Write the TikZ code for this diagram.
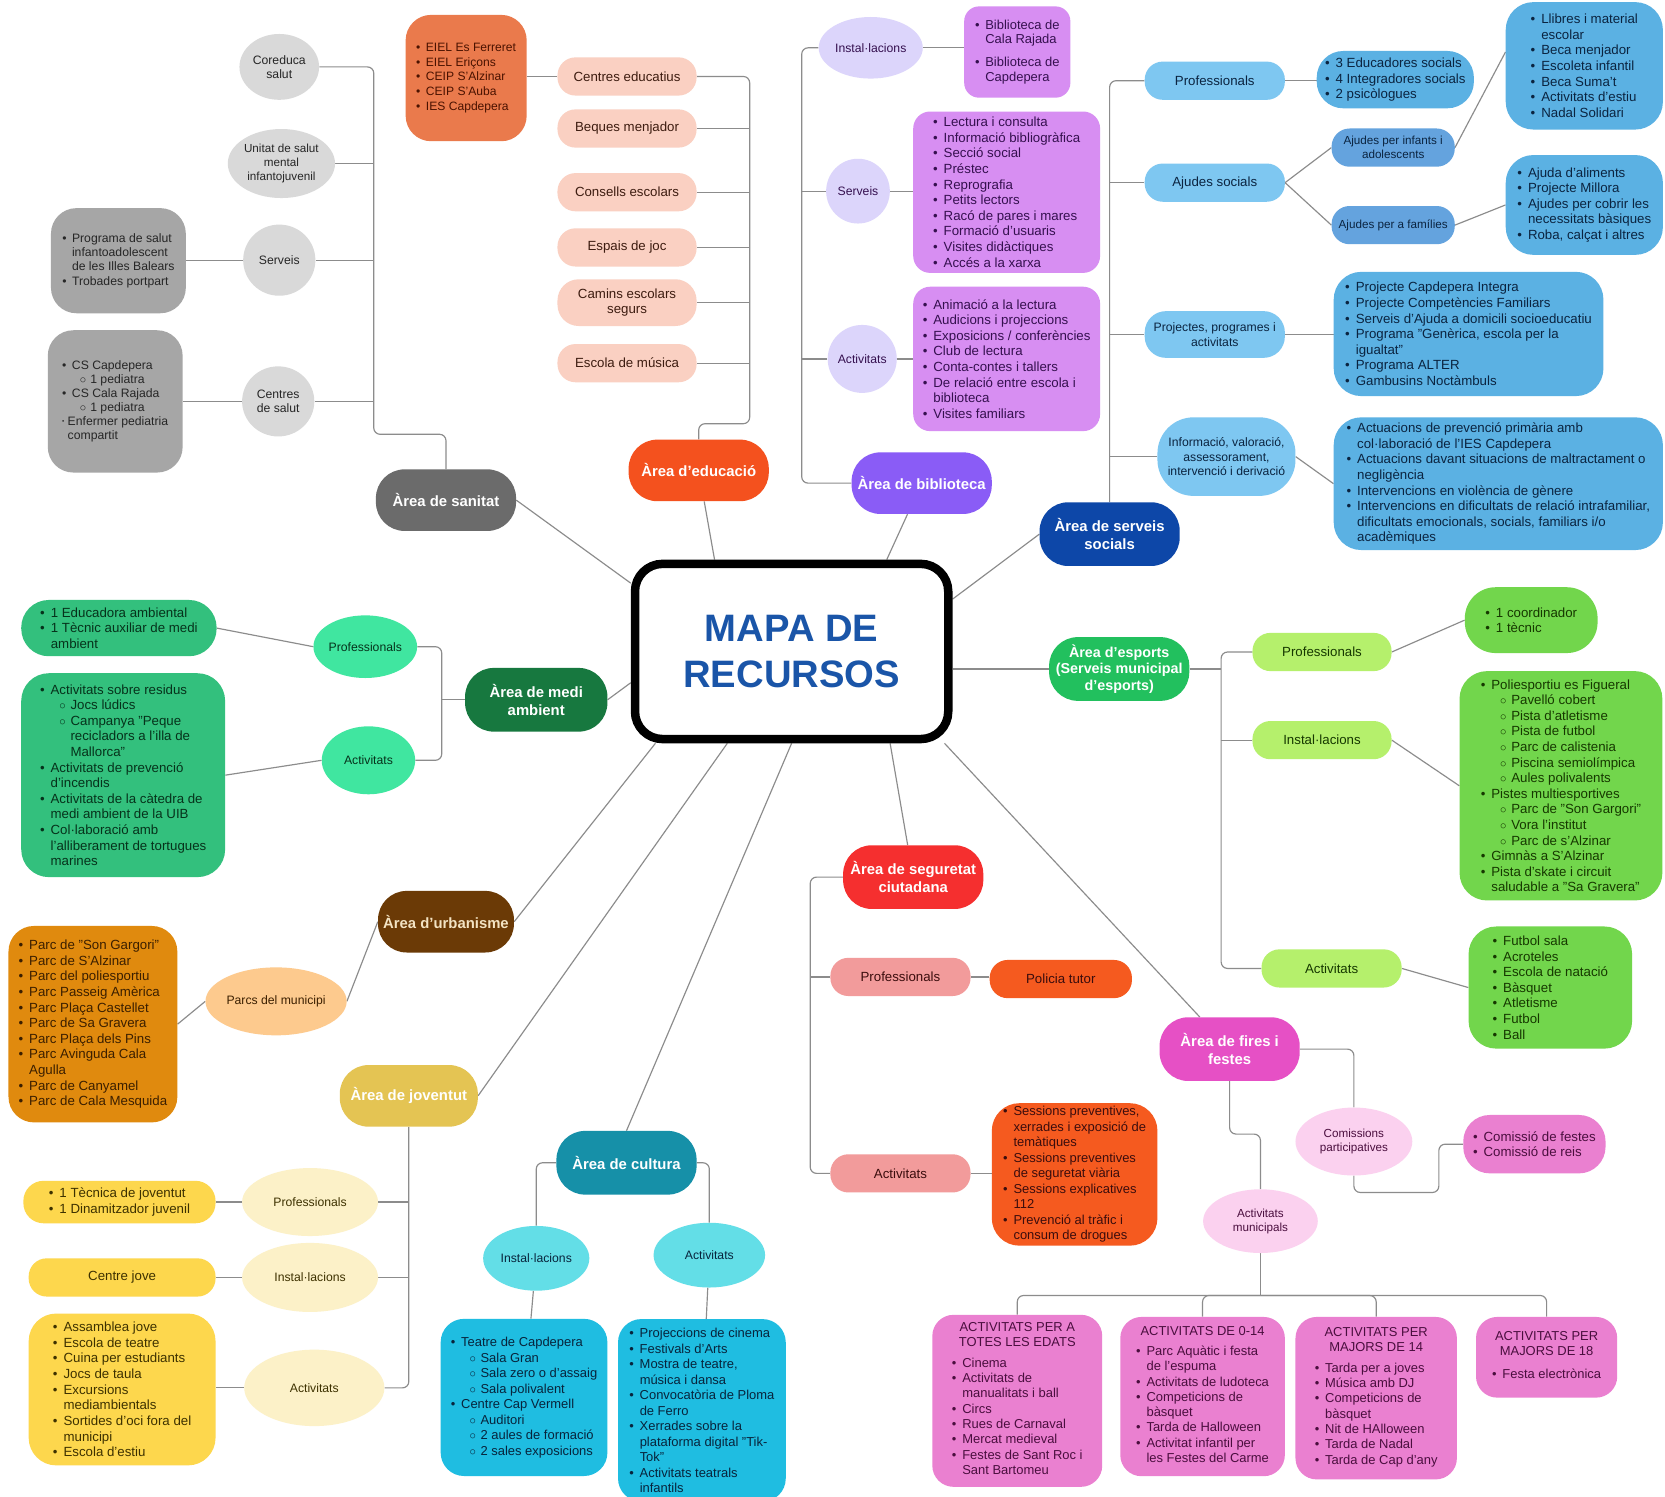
\documentclass[tikz,border=0pt]{standalone}
\usepackage{fontspec}
\setmainfont{Liberation Sans}
\usetikzlibrary{shapes.geometric}
\pgfdeclarelayer{bg}
\pgfsetlayers{bg,main}
\definecolor{lineg}{HTML}{8C8C8C}
\definecolor{titleblue}{HTML}{1A55A8}
\definecolor{cSan}{HTML}{6B6B6B}\definecolor{cSanL}{HTML}{D9D9D9}\definecolor{cSanB}{HTML}{A6A6A6}\definecolor{tSan}{HTML}{262626}
\definecolor{cEdu}{HTML}{F4511E}\definecolor{cEduL}{HTML}{FAD0C2}\definecolor{cEduB}{HTML}{EA7A4C}\definecolor{tEdu}{HTML}{3D1C10}\definecolor{tEduB}{HTML}{4A1200}
\definecolor{cBib}{HTML}{8A5CF6}\definecolor{cBibL}{HTML}{DCD5FB}\definecolor{cBibB}{HTML}{D78EF2}\definecolor{tBib}{HTML}{35104F}
\definecolor{cSoc}{HTML}{0D47A8}\definecolor{cSocL}{HTML}{7EC7F1}\definecolor{cSocD}{HTML}{64A3DE}\definecolor{cSocB}{HTML}{5BB1E3}\definecolor{tSoc}{HTML}{0B2440}
\definecolor{cEsp}{HTML}{22C05E}\definecolor{cEspL}{HTML}{B5F06C}\definecolor{cEspB}{HTML}{72D64C}\definecolor{tEsp}{HTML}{163800}
\definecolor{cMed}{HTML}{17783F}\definecolor{cMedL}{HTML}{40E6A0}\definecolor{cMedB}{HTML}{33C07D}\definecolor{tMed}{HTML}{06321B}
\definecolor{cUrb}{HTML}{6B3A06}\definecolor{cUrbL}{HTML}{FDCA8E}\definecolor{cUrbB}{HTML}{E08A0E}\definecolor{tUrb}{HTML}{3B1F00}\definecolor{tUrbA}{HTML}{F3E3C3}
\definecolor{cJov}{HTML}{E4C453}\definecolor{cJovL}{HTML}{FCF1C8}\definecolor{cJovB}{HTML}{FDD74D}\definecolor{tJov}{HTML}{3D3100}
\definecolor{cCul}{HTML}{1690A8}\definecolor{cCulL}{HTML}{63DEE7}\definecolor{cCulB}{HTML}{1FBDE1}\definecolor{tCul}{HTML}{08243C}
\definecolor{cSeg}{HTML}{F52F2F}\definecolor{cSegL}{HTML}{F29B9B}\definecolor{cSegO}{HTML}{F55A1F}\definecolor{tSeg}{HTML}{3B0D0D}
\definecolor{cFir}{HTML}{E650C5}\definecolor{cFirL}{HTML}{FBD1EF}\definecolor{cFirB}{HTML}{EA80D0}\definecolor{tFir}{HTML}{4A0E3E}
\newcommand{\fsz}[2]{\fontsize{#1}{#2}\selectfont}
\newcommand{\lbul}{\makebox[0.8em][l]{\textbullet}}
\newcommand{\lcon}{\hspace*{0.8em}}
\newcommand{\lsub}{\hspace*{1.45em}\makebox[0.85em][l]{$\circ$}}
\newcommand{\lsubc}{\hspace*{2.3em}}
\begin{document}
\begin{tikzpicture}[x=1pt,y=-1pt,
  conn/.style={draw=lineg, line width=1.1pt, rounded corners=6pt},
  area/.style={rectangle, rounded corners=27pt, fill=#1, text=white, font={\fsz{14}{16.5}\bfseries}, align=center, minimum width=132pt, minimum height=58pt, inner sep=1pt},
  pill/.style={rectangle, rounded corners=17pt, fill=#1, align=center, minimum height=36pt, inner sep=2pt, font={\fsz{12.5}{14.5}}},
  ell/.style={ellipse, fill=#1, align=center, inner sep=0pt, font={\fsz{11.5}{13.5}}},
  lbox/.style={rectangle, rounded corners=17pt, fill=#1, align=left, inner sep=3pt, font={\fsz{12.5}{14.7}}}]
\useasboundingbox (0,0) rectangle (1568,1409);

% centre
\node[rectangle, rounded corners=26pt, draw=black, line width=8pt, fill=white, minimum width=295pt, minimum height=165pt, text=titleblue, font={\fsz{36}{43}\bfseries}, align=center] (mapa) at (745.5,613.5) {MAPA DE\\RECURSOS};

% ---------- sanitat
\node[area=cSan] (san) at (420,471) {Àrea de sanitat};
\node[ell=cSanL, minimum width=75pt, minimum height=62pt, text=tSan] (cor) at (263,63) {Coreduca\\salut};
\node[ell=cSanL, minimum width=101pt, minimum height=65pt, text=tSan, font={\fsz{11}{13}}] (uni) at (265,154) {Unitat de salut\\mental\\infantojuvenil};
\node[ell=cSanL, minimum width=68pt, minimum height=67pt, text=tSan] (sser) at (263,245) {Serveis};
\node[ell=cSanL, minimum width=68pt, minimum height=66pt, text=tSan] (scen) at (262,378) {Centres\\de salut};
\node[lbox=cSanB, rounded corners=24pt, minimum width=127pt, minimum height=99pt, text=tSan, font={\fsz{11.5}{13.3}}] (sb1) at (111.5,245.5) {\lbul Programa de salut\\ \lcon infantoadolescent\\ \lcon de les Illes Balears\\ \lbul Trobades portpart};
\node[lbox=cSanB, rounded corners=24pt, minimum width=127pt, minimum height=134pt, text=tSan, font={\fsz{11.5}{13.3}}] (sb2) at (108.5,378) {\lbul CS Capdepera\\ \lsub 1 pediatra\\ \lbul CS Cala Rajada\\ \lsub 1 pediatra\\ \makebox[0.45em][l]{\raisebox{0.15em}{\fsz{6}{6}\textbullet}}Enfermer pediatria\\ \hspace*{0.45em}compartit};
\coordinate (sanT) at (352,409);

% ---------- educacio
\node[area=cEdu] (edu) at (658,443) {Àrea d'educació};
\node[pill=cEduL, minimum width=131pt, text=tEdu] (ce1) at (590.5,72) {Centres educatius};
\node[pill=cEduL, minimum width=131pt, text=tEdu] (ce2) at (590.5,121) {Beques menjador};
\node[pill=cEduL, minimum width=131pt, text=tEdu] (ce3) at (590.5,181) {Consells escolars};
\node[pill=cEduL, minimum width=131pt, text=tEdu] (ce4) at (590.5,233) {Espais de joc};
\node[pill=cEduL, minimum width=131pt, minimum height=44pt, rounded corners=20pt, text=tEdu] (ce5) at (590.5,285) {Camins escolars\\segurs};
\node[pill=cEduL, minimum width=131pt, text=tEdu] (ce6) at (590.5,342) {Escola de música};
\node[lbox=cEduB, rounded corners=24pt, minimum width=114pt, minimum height=119pt, text=tEduB, font={\fsz{11.4}{13.8}}] (eb) at (439,73.5) {\lbul EIEL Es Ferreret\\ \lbul EIEL Eriçons\\ \lbul CEIP S'Alzinar\\ \lbul CEIP S'Auba\\ \lbul IES Capdepera};
\coordinate (eduT) at (706,399);

% ---------- biblioteca
\node[area=cBib] (bib) at (868,455) {Àrea de biblioteca};
\node[ell=cBibL, minimum width=98pt, minimum height=58pt, text=tBib] (bi1) at (820,45) {Instal·lacions};
\node[ell=cBibL, minimum width=60pt, minimum height=61pt, text=tBib] (bi2) at (808,180) {Serveis};
\node[ell=cBibL, minimum width=63pt, minimum height=64pt, text=tBib] (bi3) at (812,338) {Activitats};
\node[lbox=cBibB, rounded corners=14pt, minimum width=100pt, minimum height=86pt, text=tBib, font={\fsz{12.2}{13.5}}] (bb1) at (958,49) {\lbul Biblioteca de\\ \lcon Cala Rajada\\[8pt] \lbul Biblioteca de\\ \lcon Capdepera};
\node[lbox=cBibB, rounded corners=16pt, minimum width=176pt, minimum height=152pt, text=tBib] (bb2) at (948,181) {\lbul Lectura i consulta\\ \lbul Informació bibliogràfica\\ \lbul Secció social\\ \lbul Préstec\\ \lbul Reprografia\\ \lbul Petits lectors\\ \lbul Racó de pares i mares\\ \lbul Formació d'usuaris\\ \lbul Visites didàctiques\\ \lbul Accés a la xarxa};
\node[lbox=cBibB, rounded corners=16pt, minimum width=176pt, minimum height=136pt, text=tBib] (bb3) at (948,338) {\lbul Animació a la lectura\\ \lbul Audicions i projeccions\\ \lbul Exposicions / conferències\\ \lbul Club de lectura\\ \lbul Conta-contes i tallers\\ \lbul De relació entre escola i\\ \lcon biblioteca\\ \lbul Visites familiars};
\coordinate (bibT) at (755,0);

% ---------- serveis socials
\node[area=cSoc, minimum height=60pt] (soc) at (1045,503) {Àrea de serveis\\socials};
\node[pill=cSocL, minimum width=132pt, text=tSoc] (sp1) at (1144,76) {Professionals};
\node[pill=cSocL, minimum width=132pt, text=tSoc] (sp2) at (1144,172) {Ajudes socials};
\node[pill=cSocL, minimum width=132pt, minimum height=44pt, rounded corners=20pt, text=tSoc, font={\fsz{11.5}{13.5}}] (sp3) at (1144,315) {Projectes, programes i\\activitats};
\node[pill=cSocL, minimum width=130pt, minimum height=74pt, rounded corners=34pt, text=tSoc, font={\fsz{11.5}{13.5}}] (sp4) at (1155,430) {Informació, valoració,\\assessorament,\\intervenció i derivació};
\node[lbox=cSocB, rounded corners=25pt, minimum width=148pt, minimum height=54pt, text=tSoc] (ssb1) at (1314,75) {\lbul 3 Educadores socials\\ \lbul 4 Integradores socials\\ \lbul 2 psicòlogues};
\node[pill=cSocD, minimum width=116pt, text=tSoc, font={\fsz{11}{13}}] (sai) at (1312,139) {Ajudes per infants i\\adolescents};
\node[pill=cSocD, minimum width=116pt, text=tSoc, font={\fsz{11}{13}}] (saf) at (1312,212) {Ajudes per a famílies};
\node[lbox=cSocB, rounded corners=26pt, minimum width=148pt, minimum height=120pt, text=tSoc] (ssb2) at (1492,62) {\lbul Llibres i material\\ \lcon escolar\\ \lbul Beca menjador\\ \lbul Escoleta infantil\\ \lbul Beca Suma't\\ \lbul Activitats d'estiu\\ \lbul Nadal Solidari};
\node[lbox=cSocB, rounded corners=26pt, minimum width=148pt, minimum height=94pt, text=tSoc] (ssb3) at (1492,193) {\lbul Ajuda d'aliments\\ \lbul Projecte Millora\\ \lbul Ajudes per cobrir les\\ \lcon necessitats bàsiques\\ \lbul Roba, calçat i altres};
\node[lbox=cSocB, rounded corners=26pt, minimum width=254pt, minimum height=117pt, text=tSoc] (ssb4) at (1383,314.5) {\lbul Projecte Capdepera Integra\\ \lbul Projecte Competències Familiars\\ \lbul Serveis d'Ajuda a domicili socioeducatiu\\ \lbul Programa "Genèrica, escola per la\\ \lcon igualtat"\\ \lbul Programa ALTER\\ \lbul Gambusins Noctàmbuls};
\node[lbox=cSocB, rounded corners=26pt, minimum width=310pt, minimum height=125pt, text=tSoc] (ssb5) at (1411,455.5) {\lbul Actuacions de prevenció primària amb\\ \lcon col·laboració de l'IES Capdepera\\ \lbul Actuacions davant situacions de maltractament o\\ \lcon negligència\\ \lbul Intervencions en violència de gènere\\ \lbul Intervencions en dificultats de relació intrafamiliar,\\ \lcon dificultats emocionals, socials, familiars i/o\\ \lcon acadèmiques};

% ---------- esports
\node[area=cEsp, minimum height=60pt, font={\fsz{13.5}{15.5}\bfseries}] (esp) at (1054,630) {Àrea d'esports\\(Serveis municipal\\d'esports)};
\node[pill=cEspL, minimum width=131pt, text=tEsp] (ep1) at (1245,614) {Professionals};
\node[pill=cEspL, minimum width=131pt, text=tEsp] (ep2) at (1245,697) {Instal·lacions};
\node[pill=cEspL, minimum width=132pt, text=tEsp] (ep3) at (1254,912) {Activitats};
\node[lbox=cEspB, rounded corners=29pt, minimum width=125pt, minimum height=62pt, text=tEsp] (eeb1) at (1442,584) {\lbul 1 coordinador\\ \lbul 1 tècnic};
\node[lbox=cEspB, rounded corners=26pt, minimum width=191pt, minimum height=216pt, text=tEsp] (eeb2) at (1470,740) {\lbul Poliesportiu es Figueral\\ \lsub Pavelló cobert\\ \lsub Pista d'atletisme\\ \lsub Pista de futbol\\ \lsub Parc de calistenia\\ \lsub Piscina semiolímpica\\ \lsub Aules polivalents\\ \lbul Pistes multiesportives\\ \lsub Parc de "Son Gargori"\\ \lsub Vora l'institut\\ \lsub Parc de s'Alzinar\\ \lbul Gimnàs a S'Alzinar\\ \lbul Pista d'skate i circuit\\ \lcon saludable a "Sa Gravera"};
\node[lbox=cEspB, rounded corners=26pt, minimum width=154pt, minimum height=115pt, text=tEsp] (eeb3) at (1460,930) {\lbul Futbol sala\\ \lbul Acroteles\\ \lbul Escola de natació\\ \lbul Bàsquet\\ \lbul Atletisme\\ \lbul Futbol\\ \lbul Ball};
\coordinate (espT) at (1150,0);

% ---------- medi ambient
\node[area=cMed, minimum width=134pt, minimum height=60pt] (med) at (505,659) {Àrea de medi\\ambient};
\node[ell=cMedL, minimum width=96pt, minimum height=59pt, text=tMed] (mp) at (344,609) {Professionals};
\node[ell=cMedL, minimum width=88pt, minimum height=64pt, text=tMed] (ma) at (347,716) {Activitats};
\node[lbox=cMedB, rounded corners=26pt, minimum width=184pt, minimum height=53pt, text=tMed] (mb1) at (112,591.5) {\lbul 1 Educadora ambiental\\ \lbul 1 Tècnic auxiliar de medi\\ \lcon ambient};
\node[lbox=cMedB, rounded corners=26pt, minimum width=192pt, minimum height=192pt, text=tMed] (mb2) at (116,730) {\lbul Activitats sobre residus\\ \lsub Jocs lúdics\\ \lsub Campanya "Peque\\ \lsubc recicladors a l'illa de\\ \lsubc Mallorca"\\ \lbul Activitats de prevenció\\ \lcon d'incendis\\ \lbul Activitats de la càtedra de\\ \lcon medi ambient de la UIB\\ \lbul Col·laboració amb\\ \lcon l'alliberament de tortugues\\ \lcon marines};
\coordinate (medT) at (416,0);

% ---------- urbanisme
\node[area=cUrb, minimum width=128pt, text=tUrbA] (urb) at (420,868) {Àrea d'urbanisme};
\node[ell=cUrbL, minimum width=133pt, minimum height=64pt, text=tUrb] (upa) at (260,943) {Parcs del municipi};
\node[lbox=cUrbB, rounded corners=24pt, minimum width=159pt, minimum height=185pt, text=tUrb] (ub) at (87.5,964.5) {\lbul Parc de "Son Gargori"\\ \lbul Parc de S'Alzinar\\ \lbul Parc del poliesportiu\\ \lbul Parc Passeig Amèrica\\ \lbul Parc Plaça Castellet\\ \lbul Parc de Sa Gravera\\ \lbul Parc Plaça dels Pins\\ \lbul Parc Avinguda Cala\\ \lcon Agulla\\ \lbul Parc de Canyamel\\ \lbul Parc de Cala Mesquida};

% ---------- joventut
\node[area=cJov, minimum width=130pt] (jov) at (385,1032) {Àrea de joventut};
\node[ell=cJovL, minimum width=128pt, minimum height=64pt, text=tJov] (jp) at (292,1132) {Professionals};
\node[ell=cJovL, minimum width=128pt, minimum height=65pt, text=tJov] (ji) at (292,1203) {Instal·lacions};
\node[ell=cJovL, minimum width=132pt, minimum height=72pt, text=tJov] (ja) at (296,1307) {Activitats};
\node[lbox=cJovB, rounded corners=19pt, minimum width=181pt, minimum height=40pt, text=tJov] (jb1) at (112.5,1132) {\lbul 1 Tècnica de joventut\\ \lbul 1 Dinamitzador juvenil};
\node[pill=cJovB, minimum width=176pt, text=tJov] (jb2) at (115,1203) {Centre jove};
\node[lbox=cJovB, rounded corners=26pt, minimum width=176pt, minimum height=143pt, text=tJov] (jb3) at (115,1308.5) {\lbul Assamblea jove\\ \lbul Escola de teatre\\ \lbul Cuina per estudiants\\ \lbul Jocs de taula\\ \lbul Excursions\\ \lcon mediambientals\\ \lbul Sortides d'oci fora del\\ \lcon municipi\\ \lbul Escola d'estiu};

% ---------- cultura
\node[area=cCul, minimum height=60pt] (cul) at (590,1095) {Àrea de cultura};
\node[ell=cCulL, minimum width=100pt, minimum height=61pt, text=tCul] (ci) at (505,1185) {Instal·lacions};
\node[ell=cCulL, minimum width=105pt, minimum height=61pt, text=tCul] (ca) at (668,1182) {Activitats};
\node[lbox=cCulB, rounded corners=22pt, minimum width=157pt, minimum height=148pt, text=tCul, font={\fsz{12.2}{14.6}}] (cb1) at (493.5,1316) {\lbul Teatre de Capdepera\\ \lsub Sala Gran\\ \lsub Sala zero o d'assaig\\ \lsub Sala polivalent\\ \lbul Centre Cap Vermell\\ \lsub Auditori\\ \lsub 2 aules de formació\\ \lsub 2 sales exposicions};
\node[lbox=cCulB, rounded corners=22pt, anchor=north, minimum width=158pt, minimum height=172pt, text=tCul, font={\fsz{12.2}{14.6}}] (cb2) at (661,1242) {\lbul Projeccions de cinema\\ \lbul Festivals d'Arts\\ \lbul Mostra de teatre,\\ \lcon música i dansa\\ \lbul Convocatòria de Ploma\\ \lcon de Ferro\\ \lbul Xerrades sobre la\\ \lcon plataforma digital "Tik-\\ \lcon Tok"\\ \lbul Activitats teatrals\\ \lcon infantils};

% ---------- seguretat
\node[area=cSeg, minimum height=60pt] (seg) at (860,826) {Àrea de seguretat\\ciutadana};
\node[pill=cSegL, minimum width=132pt, text=tSeg] (spr) at (848,920) {Professionals};
\node[pill=cSegL, minimum width=132pt, text=tSeg] (sac) at (848,1105) {Activitats};
\node[pill=cSegO, minimum width=134pt, text=tSeg] (spt) at (999,922) {Policia tutor};
\node[lbox=cSegO, rounded corners=26pt, minimum width=156pt, minimum height=132pt, text=tSeg, font={\fsz{12.2}{14.6}}] (ssb) at (1012,1106) {\lbul Sessions preventives,\\ \lcon xerrades i exposició de\\ \lcon temàtiques\\ \lbul Sessions preventives\\ \lcon de seguretat viària\\ \lbul Sessions explicatives\\ \lcon 112\\ \lbul Prevenció al tràfic i\\ \lcon consum de drogues};
\coordinate (segT) at (763,0);

% ---------- fires i festes
\node[area=cFir, minimum height=60pt] (fir) at (1158,988) {Àrea de fires i\\festes};
\node[ell=cFirL, minimum width=110pt, minimum height=64pt, text=tFir, font={\fsz{11}{13}}] (com) at (1275,1075) {Comissions\\participatives};
\node[lbox=cFirB, rounded corners=25pt, minimum width=134pt, minimum height=55pt, text=tFir] (cfb) at (1445,1077.5) {\lbul Comissió de festes\\ \lbul Comissió de reis};
\node[ell=cFirL, minimum width=108pt, minimum height=60pt, text=tFir, font={\fsz{11}{13}}] (amu) at (1187,1150) {Activitats\\municipals};
\node[lbox=cFirB, anchor=north, rounded corners=20pt, align=center, minimum width=160pt, minimum height=162pt, text=tFir, font={\fsz{12.2}{14.4}}] (fa1) at (958,1238) {ACTIVITATS PER A\\TOTES LES EDATS\\[8pt]\begin{tabular}{@{}l@{}}\lbul Cinema\\ \lbul Activitats de\\ \lcon manualitats i ball\\ \lbul Circs\\ \lbul Rues de Carnaval\\ \lbul Mercat medieval\\ \lbul Festes de Sant Roc i\\ \lcon Sant Bartomeu\end{tabular}};
\node[lbox=cFirB, anchor=north, rounded corners=20pt, align=center, minimum width=155pt, minimum height=150pt, text=tFir, font={\fsz{12.2}{14.4}}] (fa2) at (1132.5,1240) {ACTIVITATS DE 0-14\\[8pt]\begin{tabular}{@{}l@{}}\lbul Parc Aquàtic i festa\\ \lcon de l'espuma\\ \lbul Activitats de ludoteca\\ \lbul Competicions de\\ \lcon bàsquet\\ \lbul Tarda de Halloween\\ \lbul Activitat infantil per\\ \lcon les Festes del Carme\end{tabular}};
\node[lbox=cFirB, anchor=north, rounded corners=20pt, align=center, minimum width=152pt, minimum height=153pt, text=tFir, font={\fsz{12.2}{14.4}}] (fa3) at (1296,1240) {ACTIVITATS PER\\MAJORS DE 14\\[8pt]\begin{tabular}{@{}l@{}}\lbul Tarda per a joves\\ \lbul Música amb DJ\\ \lbul Competicions de\\ \lcon bàsquet\\ \lbul Nit de HAlloween\\ \lbul Tarda de Nadal\\ \lbul Tarda de Cap d'any\end{tabular}};
\node[lbox=cFirB, anchor=north, rounded corners=20pt, align=center, minimum width=133pt, minimum height=76pt, text=tFir, font={\fsz{12.2}{14.4}}] (fa4) at (1456.5,1240) {ACTIVITATS PER\\MAJORS DE 18\\[8pt]\begin{tabular}{@{}l@{}}\lbul Festa electrònica\end{tabular}};
\coordinate (firB) at (1187,1068);
\coordinate (comB) at (1355,1123);
\coordinate (amB) at (1187,1220);

% ================= connectors
\begin{pgfonlayer}{bg}
\fill[white] (0,0) rectangle (1568,1409);
% centre to areas
\draw[conn] (mapa.157) -- (san.east);
\draw[conn] (mapa.130) -- (edu);
\draw[conn] (mapa.44) -- (bib);
\draw[conn] (mapa.18) -- (soc.west);
\draw[conn] (mapa.east |- esp.west) -- (esp.west);
\draw[conn] (mapa.191) -- (med.east);
\draw[conn] (mapa.214) -- (urb.east);
\draw[conn] (mapa.235) -- (jov.east);
\draw[conn] (mapa.270) -- (cul.north);
\draw[conn] (mapa.317) -- (seg);
\draw[conn] (mapa.-31) -- (fir);
% sanitat
\draw[conn] (cor.east) -| (sanT) -| (san.north);
\draw[conn] (uni.east) -- (uni.east -| sanT);
\draw[conn] (sser.east) -- (sser.east -| sanT);
\draw[conn] (scen.east) -- (scen.east -| sanT);
\draw[conn] (sser.west) -- (sser.west -| sb1.east);
\draw[conn] (scen.west) -- (scen.west -| sb2.east);
% educacio
\draw[conn] (ce1.east) -| (eduT) -| (edu.north);
\draw[conn] (ce2.east) -- (ce2.east -| eduT);
\draw[conn] (ce3.east) -- (ce3.east -| eduT);
\draw[conn] (ce4.east) -- (ce4.east -| eduT);
\draw[conn] (ce5.east) -- (ce5.east -| eduT);
\draw[conn] (ce6.east) -- (ce6.east -| eduT);
\draw[conn] (eb.east |- ce1.west) -- (ce1.west);
% biblioteca
\draw[conn] (bi1.west) -| (bibT |- bib.west) -- (bib.west);
\draw[conn] (bi2.west) -- (bi2.west -| bibT);
\draw[conn] (bi3.west) -- (bi3.west -| bibT);
\draw[conn] (bi1.east) -- (bi1.east -| bb1.west);
\draw[conn] (bi2.east) -- (bi2.east -| bb2.west);
\draw[conn] (bi3.east) -- (bi3.east -| bb3.west);
% serveis socials
\draw[conn] (sp1.west) -| (soc.north);
\draw[conn] (sp2.west) -- (sp2.west -| soc.north);
\draw[conn] (sp3.west) -- (sp3.west -| soc.north);
\draw[conn] (sp4.west) -- (sp4.west -| soc.north);
\draw[conn] (sp1.east) -- (sp1.east -| ssb1.west);
\draw[conn] (sp2.east) -- (sai.west);
\draw[conn] (sp2.east) -- (saf.west);
\draw[conn] (sai.east) -- (ssb2.170);
\draw[conn] (saf.east) -- (ssb3.west);
\draw[conn] (sp3.east) -- (sp3.east -| ssb4.west);
\draw[conn] (sp4.east) -- (ssb5.west);
% esports
\draw[conn] (ep1.west) -| (espT |- ep3.west) -- (ep3.west);
\draw[conn] (ep2.west) -- (ep2.west -| espT);
\draw[conn] (esp.east) -- (esp.east -| espT);
\draw[conn] (ep1.east) -- (eeb1.west);
\draw[conn] (ep2.east) -- (eeb2.west);
\draw[conn] (ep3.east) -- (eeb3.west);
% medi ambient
\draw[conn] (mp.east) -| (medT |- ma.east) -- (ma.east);
\draw[conn] (med.west) -- (med.west -| medT);
\draw[conn] (mp.west) -- (mb1.east);
\draw[conn] (ma.west) -- (mb2.east);
% urbanisme
\draw[conn] (urb.west) -- (upa.east);
\draw[conn] (upa.west) -- (ub.east);
% joventut
\draw[conn] (jov.south) |- (ja.east);
\draw[conn] (jp.east) -- (jp.east -| jov.south);
\draw[conn] (ji.east) -- (ji.east -| jov.south);
\draw[conn] (jp.west) -- (jp.west -| jb1.east);
\draw[conn] (ji.west) -- (ji.west -| jb2.east);
\draw[conn] (ja.west) -- (ja.west -| jb3.east);
% cultura
\draw[conn] (cul.west) -| (ci.north);
\draw[conn] (cul.east) -| (ca.north);
\draw[conn] (ci) -- (cb1);
\draw[conn] (ca) -- (cb2);
% seguretat
\draw[conn] (seg.west) -| (segT |- sac.west) -- (sac.west);
\draw[conn] (spr.west) -- (spr.west -| segT);
\draw[conn] (spr.east) -- (spr.east -| spt.west);
\draw[conn] (sac.east) -- (sac.east -| ssb.west);
% fires
\draw[conn] (fir.east) -| (com.north);
\draw[conn] (fir.south) |- (firB) -- (amu.north);
\draw[conn] (com.south) |- (comB) |- (cfb.west);
\draw[conn] (amu.south) -- (amB);
\draw[conn] (fa1.north) |- (amB);
\draw[conn] (fa2.north) |- (amB);
\draw[conn] (fa3.north) |- (amB);
\draw[conn] (fa4.north) |- (amB);
\end{pgfonlayer}
\end{tikzpicture}
\end{document}
